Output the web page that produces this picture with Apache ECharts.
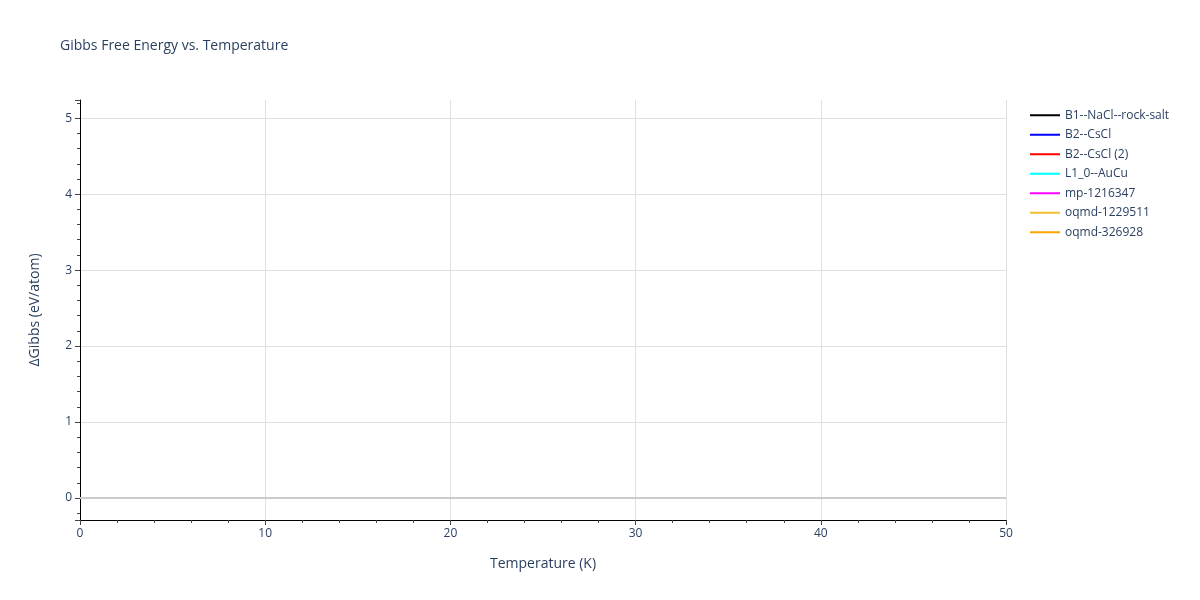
<!DOCTYPE html>
<html>
<head>
<meta charset="utf-8">
<script src="https://cdn.jsdelivr.net/npm/echarts@6/dist/echarts.min.js"></script>
<style>
html, body { margin: 0; padding: 0; background: #fff; }
#main { width: 1200px; height: 600px; }
</style>
</head>
<body>
<div id="main"></div>
<script>
// 图表数据（参考图中没有可见曲线，各结构数据为空）
var structureNames = ['B1--NaCl--rock-salt', 'B2--CsCl', 'B2--CsCl (2)', 'L1_0--AuCu', 'mp-1216347', 'oqmd-1229511', 'oqmd-326928'];
var lineColors = ['#000000', '#0000ff', '#ff0000', '#00ffff', '#ff00ff', '#f0c030', '#ffa500'];
// 温度 (K)
var temperatures = [];
// 各结构 ΔGibbs (eV/atom)
var gibbsB1 = [];
var gibbsB2 = [];
var gibbsB2b = [];
var gibbsL10 = [];
var gibbsMp = [];
var gibbsOqmd1 = [];
var gibbsOqmd2 = [];
var gibbsValues = [gibbsB1, gibbsB2, gibbsB2b, gibbsL10, gibbsMp, gibbsOqmd1, gibbsOqmd2];

var fontFamily = '"Open Sans", "DejaVu Sans", sans-serif';
var textColor = '#2a3f5f';

var myChart = echarts.init(document.getElementById('main'));

var series = [];
for (var i = 0; i < structureNames.length; i++) {
	var pts = [];
	for (var j = 0; j < temperatures.length; j++) {
		pts.push([temperatures[j], gibbsValues[i][j]]);
	}
	series.push({
		name: structureNames[i],
		type: 'line',
		showSymbol: false,
		color: lineColors[i],
		lineStyle: { width: 2, color: lineColors[i] },
		data: pts
	});
}

var option = {
	animation: false,
	backgroundColor: '#ffffff',
	textStyle: { fontFamily: fontFamily },
	title: {
		text: 'Gibbs Free Energy vs. Temperature',
		left: 55,
		top: 34,
		textStyle: { fontFamily: fontFamily, fontSize: 14, fontWeight: 'normal', color: textColor }
	},
	legend: {
		orient: 'vertical',
		left: 1025,
		top: 103,
		icon: 'rect',
		itemWidth: 30,
		itemHeight: 2,
		itemGap: 5,
		textStyle: { fontFamily: fontFamily, fontSize: 12, color: textColor, lineHeight: 14.5 },
		data: structureNames
	},
	grid: { left: 80, right: 194, top: 100, bottom: 80 },
	xAxis: {
		type: 'value',
		min: 0,
		max: 50,
		interval: 10,
		name: 'Temperature (K)',
		nameLocation: 'middle',
		nameGap: 37,
		nameTextStyle: { fontFamily: fontFamily, fontSize: 14, color: textColor },
		axisLine: { show: true, onZero: false, lineStyle: { color: '#000', width: 1 } },
		axisTick: { show: true, length: 5, lineStyle: { color: '#444' } },
		minorTick: { show: true, splitNumber: 5, length: 3, lineStyle: { color: '#444' } },
		axisLabel: { fontFamily: fontFamily, fontSize: 12, color: textColor, margin: 8 },
		splitLine: { show: true, lineStyle: { color: '#e0e0e0', width: 1 } }
	},
	yAxis: {
		type: 'value',
		min: -0.29,
		max: 5.24,
		name: 'ΔGibbs (eV/atom)',
		nameLocation: 'middle',
		nameGap: 38,
		nameTextStyle: { fontFamily: fontFamily, fontSize: 14, color: textColor },
		axisLine: { show: true, onZero: false, lineStyle: { color: '#000', width: 1 } },
		axisTick: { show: true, length: 5, lineStyle: { color: '#444' } },
		minorTick: { show: true, splitNumber: 5, length: 3, lineStyle: { color: '#444' } },
		axisLabel: {
			fontFamily: fontFamily, fontSize: 12, color: textColor, margin: 8,
			showMinLabel: false, showMaxLabel: false,
			formatter: function (v) { return Math.abs(v - Math.round(v)) < 1e-6 ? String(Math.round(v)) : ''; }
		},
		splitLine: { show: true, showMinLine: false, showMaxLine: false, lineStyle: { color: '#e0e0e0', width: 1 } }
	},
	series: series.concat([{
		// 零线
		type: 'line',
		silent: true,
		data: [],
		markLine: {
			silent: true,
			symbol: 'none',
			label: { show: false },
			lineStyle: { color: '#cccccc', width: 2, type: 'solid' },
			data: [{ yAxis: 0 }]
		}
	}])
};
myChart.setOption(option);
</script>
</body>
</html>
